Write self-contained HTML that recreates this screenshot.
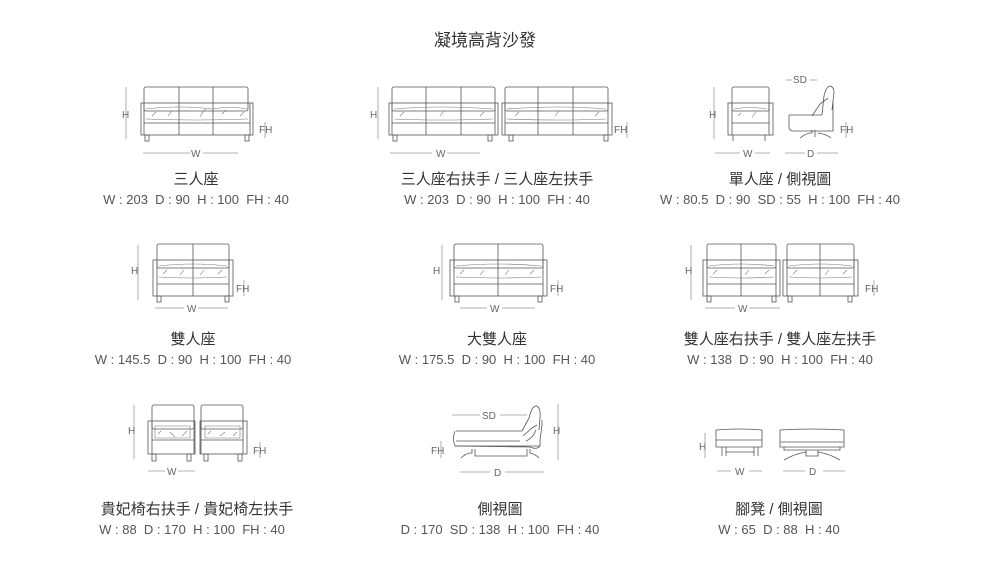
<!DOCTYPE html>
<html><head><meta charset="utf-8"><style>
html,body{margin:0;padding:0;background:#fff;width:995px;height:581px;overflow:hidden}
svg{position:absolute;left:0;top:0}
text{font-family:"Liberation Sans","Noto Sans CJK TC",sans-serif;fill:#444;white-space:pre}
.t{font-size:17px;fill:#333}
.n{font-size:15px;fill:#333}
.d{font-size:13px;fill:#555}
.s{font-size:10px;fill:#666}
.l{stroke:#555;stroke-width:0.8;fill:none}
.g{stroke:#999;stroke-width:0.8;fill:none}
.p{stroke:#777;stroke-width:0.6;fill:none}
</style></head><body>
<svg width="995" height="581" viewBox="0 0 995 581" xml:space="preserve">
<text class="t" x="485" y="46" text-anchor="middle">凝境高背沙發</text>

<g>
<rect class="l" x="144" y="87" width="104" height="24" rx="2"/>
<rect class="l" x="141" y="103" width="112" height="32" fill="#fff"/>
<path class="l" d="M144 103V135M250 103V135M144 123H250M179 87V135M213 87V135"/>
<path class="p" d="M146 109Q180 105 212 109Q230 106 248 109M146 119Q196 121 248 119M152 116l4-4M168 116l4-5M200 117q3-6 6-8M222 114l4-4M240 116l4-4"/>
<rect class="l" x="145" y="135" width="4" height="6"/><rect class="l" x="245" y="135" width="4" height="6"/>
<path class="g" d="M126 87V139M265 122V138M143 153H190M203 153H238"/>
<text class="s" x="122" y="118">H</text><text class="s" x="259" y="133">FH</text><text class="s" x="191" y="157">W</text>
</g>

<g>
<rect class="l" x="392" y="87" width="103" height="24" rx="2"/>
<rect class="l" x="389" y="103" width="109" height="32" fill="#fff"/>
<path class="l" d="M392 103V135M495 103V135M392 123H495M426 87V135M461 87V135"/>
<path class="p" d="M394 109Q440 105 493 109M394 119Q440 121 493 119M400 116l4-4M440 116l4-5M480 116l4-4"/>
<rect class="l" x="393" y="135" width="4" height="6"/><rect class="l" x="488" y="135" width="4" height="6"/>
<rect class="l" x="505" y="87" width="103" height="24" rx="2"/>
<rect class="l" x="502" y="103" width="110" height="32" fill="#fff"/>
<path class="l" d="M505 103V135M608 103V135M505 123H608M538 87V135M573 87V135"/>
<path class="p" d="M507 109Q560 105 606 109M507 119Q560 121 606 119M515 116l4-4M555 116l4-5M595 116l4-4"/>
<rect class="l" x="509" y="135" width="4" height="6"/><rect class="l" x="604" y="135" width="4" height="6"/>
<path class="g" d="M378 87V139M627 122V138M390 153H432M447 153H480"/>
<text class="s" x="370" y="118">H</text><text class="s" x="614" y="133">FH</text><text class="s" x="436" y="157">W</text>
</g>

<g>
<rect class="l" x="732" y="87" width="37" height="24" rx="2"/>
<rect class="l" x="728" y="103" width="45" height="32" fill="#fff"/>
<path class="l" d="M732 103V135M769 103V135M732 123H769"/>
<path class="p" d="M734 109Q750 106 767 109M738 116l3-3M752 117l4-5"/>
<path class="l" d="M733 135V141M765 135V141"/>
<path class="l" d="M789 115H822M789 115V128Q790 131 793 131H833V100M822 115L824 96Q826 87 830 86Q834 87 834 92L832 110M812 116L820 104L828 98"/>
<path class="l" d="M800 138Q805 134 810 133H812V130M815 130V137M818 133Q826 134 831 138"/>
<path class="g" d="M714 87V139M846 122V138M715 153H740M755 153H770M785 153H805M817 153H838M786 80H792M810 80H817"/>
<text class="s" x="709" y="118">H</text><text class="s" x="840" y="133">FH</text><text class="s" x="743" y="157">W</text><text class="s" x="807" y="157">D</text><text class="s" x="793" y="83">SD</text>
</g>

<g>
<rect class="l" x="157" y="244" width="72" height="24" rx="2"/>
<rect class="l" x="153" y="260" width="80" height="36" fill="#fff"/>
<path class="l" d="M157 260V296M229 260V296M157 284H229M193 244V296"/>
<path class="p" d="M159 266Q193 262 227 266M159 277Q193 279 227 277M163 274l4-4M180 275l4-5M200 275l4-5M218 274l4-4"/>
<rect class="l" x="157" y="296" width="4" height="6"/><rect class="l" x="225" y="296" width="4" height="6"/>
<path class="g" d="M138 245V300M244 280V296M155 308H184M198 308H228"/>
<text class="s" x="131" y="274">H</text><text class="s" x="236" y="292">FH</text><text class="s" x="187" y="312">W</text>
</g>

<g>
<rect class="l" x="454" y="244" width="89" height="24" rx="2"/>
<rect class="l" x="450" y="260" width="97" height="36" fill="#fff"/>
<path class="l" d="M454 260V296M543 260V296M454 284H543M498 244V296"/>
<path class="p" d="M456 266Q498 262 541 266M456 277Q498 279 541 277M460 274l4-4M480 275l4-5M505 275l4-5M530 274l4-4"/>
<rect class="l" x="455" y="296" width="4" height="6"/><rect class="l" x="538" y="296" width="4" height="6"/>
<path class="g" d="M442 245V300M558 280V296M460 308H487M502 308H535"/>
<text class="s" x="433" y="274">H</text><text class="s" x="550" y="292">FH</text><text class="s" x="490" y="312">W</text>
</g>

<g>
<rect class="l" x="707" y="244" width="69" height="24" rx="2"/>
<rect class="l" x="703" y="260" width="77" height="36" fill="#fff"/>
<path class="l" d="M707 260V296M776 260V296M707 284H776M741 244V296"/>
<path class="p" d="M709 266Q741 262 774 266M709 277Q741 279 774 277M713 274l4-4M745 275l4-5M765 274l4-4"/>
<rect class="l" x="707" y="296" width="4" height="6"/><rect class="l" x="772" y="296" width="4" height="6"/>
<rect class="l" x="787" y="244" width="67" height="24" rx="2"/>
<rect class="l" x="783" y="260" width="75" height="36" fill="#fff"/>
<path class="l" d="M787 260V296M854 260V296M787 284H854M820 244V296"/>
<path class="p" d="M789 266Q820 262 852 266M789 277Q820 279 852 277M793 274l4-4M825 275l4-5M843 274l4-4"/>
<rect class="l" x="788" y="296" width="4" height="6"/><rect class="l" x="848" y="296" width="4" height="6"/>
<path class="g" d="M691 245V300M874 280V296M705 308H735M749 308H780"/>
<text class="s" x="685" y="274">H</text><text class="s" x="865" y="292">FH</text><text class="s" x="738" y="312">W</text>
</g>

<g>
<rect class="l" x="152" y="405" width="42" height="24" rx="2"/>
<rect class="l" x="148" y="421" width="47" height="33" fill="#fff"/>
<path class="l" d="M152 421V454M194 421V454M152 440H194"/>
<path class="p" d="M155 426H190V438H155ZM158 434l3-3M170 432l5 5M182 436l5-5"/>
<rect class="l" x="152" y="454" width="4" height="7"/><rect class="l" x="187" y="454" width="4" height="7"/>
<rect class="l" x="201" y="405" width="42" height="24" rx="2"/>
<rect class="l" x="200" y="421" width="47" height="33" fill="#fff"/>
<path class="l" d="M201 421V454M243 421V454M201 440H243"/>
<path class="p" d="M205 426H240V438H205ZM208 434l3-3M220 436l5-4M233 436l4-4"/>
<rect class="l" x="204" y="454" width="4" height="7"/><rect class="l" x="238" y="454" width="4" height="7"/>
<path class="g" d="M134 405V459M260 442V458M148 471H165M178 471H195"/>
<text class="s" x="128" y="434">H</text><text class="s" x="253" y="454">FH</text><text class="s" x="167" y="475">W</text>
</g>

<g>
<path class="l" d="M456 431H522M455 431Q452 438 455 446H540V440L542 425V420M456 441H520M522 431L529 418Q532 405 537 406Q541 409 540 418L539 430M523 436L532 428L537 425M526 441Q533 438 536 430"/>
<path class="l" d="M455 446L530 447Q537 450 540 446M461 458Q465 454 470 453H472V449M475 449V456H527V449M530 449V453Q535 454 539 458"/>
<path class="g" d="M452 415H480M500 415H527M558 404V460M441 441V458M460 472H490M505 472H544"/>
<text class="s" x="482" y="419">SD</text><text class="s" x="553" y="434">H</text><text class="s" x="431" y="454">FH</text><text class="s" x="494" y="476">D</text>
</g>

<g>
<path class="l" d="M716 430Q740 428 762 430V447H716ZM716 440H762M722 447V456M726 447V456M754 447V456M758 447V456M726 452H754"/>
<path class="l" d="M780 430Q812 428 844 430V447H780ZM780 442H844M784 447V450H840V447M806 450V456H818V450M784 460Q794 454 806 452M818 452Q830 454 840 460"/>
<path class="g" d="M705 433V443M705 450V458M717 471H731M749 471H762M783 471H805M823 471H845"/>
<text class="s" x="699" y="450">H</text><text class="s" x="735" y="475">W</text><text class="s" x="809" y="475">D</text>
</g>

<g text-anchor="middle">
<text class="n" x="196" y="184">三人座</text>
<text class="d" x="196" y="204">W : 203  D : 90  H : 100  FH : 40</text>
<text class="n" x="497" y="184">三人座右扶手 / 三人座左扶手</text>
<text class="d" x="497" y="204">W : 203  D : 90  H : 100  FH : 40</text>
<text class="n" x="780" y="184">單人座 / 側視圖</text>
<text class="d" x="780" y="204">W : 80.5  D : 90  SD : 55  H : 100  FH : 40</text>
<text class="n" x="193" y="344">雙人座</text>
<text class="d" x="193" y="364">W : 145.5  D : 90  H : 100  FH : 40</text>
<text class="n" x="497" y="344">大雙人座</text>
<text class="d" x="497" y="364">W : 175.5  D : 90  H : 100  FH : 40</text>
<text class="n" x="780" y="344">雙人座右扶手 / 雙人座左扶手</text>
<text class="d" x="780" y="364">W : 138  D : 90  H : 100  FH : 40</text>
<text class="n" x="197" y="514">貴妃椅右扶手 / 貴妃椅左扶手</text>
<text class="d" x="192" y="534">W : 88  D : 170  H : 100  FH : 40</text>
<text class="n" x="500" y="514">側視圖</text>
<text class="d" x="500" y="534">D : 170  SD : 138  H : 100  FH : 40</text>
<text class="n" x="779" y="514">腳凳 / 側視圖</text>
<text class="d" x="779" y="534">W : 65  D : 88  H : 40</text>
</g>
</svg>
</body></html>
